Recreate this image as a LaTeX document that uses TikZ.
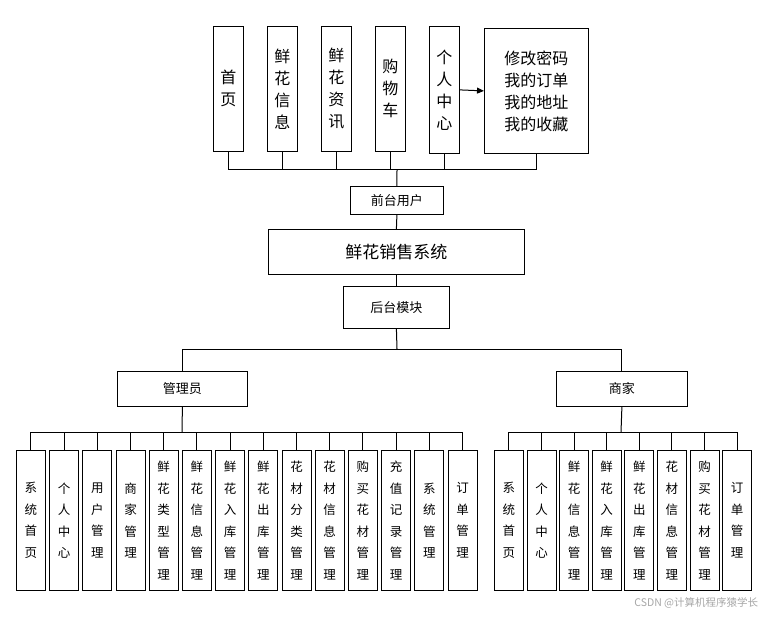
\documentclass[tikz,border=0pt]{standalone}
\usepackage{fontspec}
\setmainfont{Noto Sans CJK SC}
\usetikzlibrary{arrows.meta}
\begin{document}
\begin{tikzpicture}[x=1pt,y=-1pt,line width=1pt,
  bx/.style={draw,thick,inner sep=0pt,align=center,anchor=north west},
  big/.style={font=\fontsize{16}{22}\selectfont},
  sml/.style={font=\fontsize{12.5}{21.5}\selectfont},
  mid/.style={font=\fontsize{13}{16}\selectfont}]
\useasboundingbox (0,0) rectangle (767,617);
% top row
\node[bx,big,minimum width=30pt,minimum height=125pt] (t1) at (213,26) {首\\页};
\node[bx,big,minimum width=30pt,minimum height=125pt] (t2) at (267,26) {鲜\\花\\信\\息};
\node[bx,big,minimum width=30pt,minimum height=125pt] (t3) at (321,26) {鲜\\花\\资\\讯};
\node[bx,big,minimum width=30pt,minimum height=125pt] (t4) at (375,26) {购\\物\\车};
\node[bx,big,minimum width=30pt,minimum height=127pt] (t5) at (429,26) {个\\人\\中\\心};
\node[bx,big,minimum width=104pt,minimum height=125pt] (t6) at (484,28) {修改密码\\我的订单\\我的地址\\我的收藏};
\draw[-{Triangle[length=7pt,width=6pt]}] (t5.east) -- (t6.west);
\coordinate (bus) at (397,170);
\foreach \n in {t1,t2,t3,t4,t5,t6} \draw (\n.south) |- (bus);
\node[bx,mid,minimum width=93pt,minimum height=28pt] (qt) at (350,186) {前台用户};
\draw (bus) -- (qt.north);
\node[bx,font=\fontsize{17}{20}\selectfont,minimum width=256pt,minimum height=45pt] (sys) at (268,229) {鲜花销售系统};
\node[bx,mid,minimum width=106pt,minimum height=42pt] (ht) at (343,286) {后台模块};
\draw (qt.south) -- (sys.north);
\draw (sys.south) -- (ht.north);
\node[bx,mid,minimum width=130pt,minimum height=35pt] (gly) at (117,371) {管理员};
\node[bx,mid,minimum width=131pt,minimum height=35pt] (sj) at (556,371) {商家};
\coordinate (hb) at (397,349);
\draw (ht.south) -- (hb);
\draw (hb) -| (gly.north);
\draw (hb) -| (sj.north);
% admin children
\coordinate (ab) at (182,432);
\draw (gly.south) -- (ab);
\foreach \i/\t in {0/系\\统\\首\\页,1/个\\人\\中\\心,2/用\\户\\管\\理,3/商\\家\\管\\理,4/鲜\\花\\类\\型\\管\\理,5/鲜\\花\\信\\息\\管\\理,6/鲜\\花\\入\\库\\管\\理,7/鲜\\花\\出\\库\\管\\理,8/花\\材\\分\\类\\管\\理,9/花\\材\\信\\息\\管\\理,10/购\\买\\花\\材\\管\\理,11/充\\值\\记\\录\\管\\理,12/系\\统\\管\\理,13/订\\单\\管\\理}{
  \node[bx,sml,minimum width=29pt,minimum height=140pt] (a\i) at ({16+33.2*\i},450) {\t};
  \draw (a\i.north) |- (ab);
}
\coordinate (sb) at (621,432);
\draw (sj.south) -- (sb);
\foreach \i/\t in {0/系\\统\\首\\页,1/个\\人\\中\\心,2/鲜\\花\\信\\息\\管\\理,3/鲜\\花\\入\\库\\管\\理,4/鲜\\花\\出\\库\\管\\理,5/花\\材\\信\\息\\管\\理,6/购\\买\\花\\材\\管\\理,7/订\\单\\管\\理}{
  \node[bx,sml,minimum width=29pt,minimum height=140pt] (b\i) at ({494+32.6*\i},450) {\t};
  \draw (b\i.north) |- (sb);
}
\node[text=gray!70,font=\fontsize{10.5}{12}\selectfont,anchor=east] (wm) at (762,603) {CSDN @计算机程序猿学长};
\end{tikzpicture}
\end{document}
